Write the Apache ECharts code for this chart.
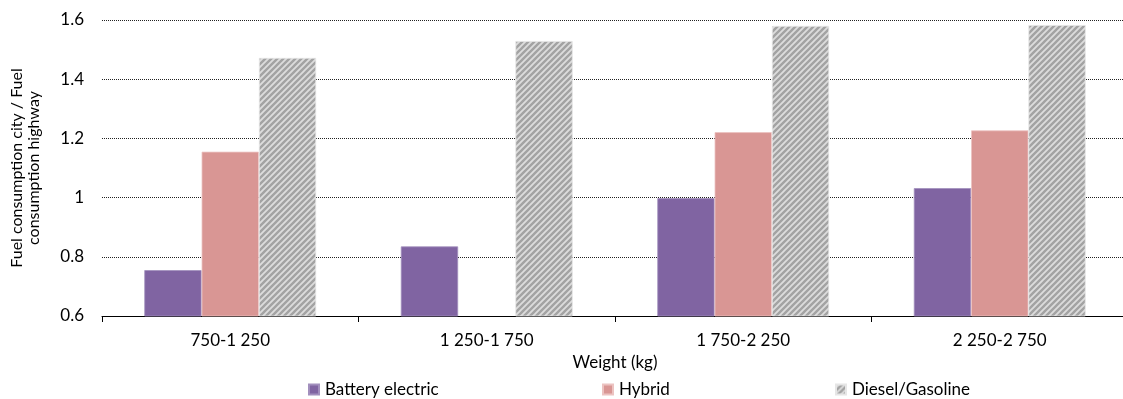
<!DOCTYPE html>
<html><head><meta charset="utf-8">
<script src="https://cdn.jsdelivr.net/npm/echarts@6/dist/echarts.min.js"></script>
<style>html,body{margin:0;padding:0;background:#fff;overflow:hidden}#c{width:1140px;height:399px}</style>
</head><body><div id="c"></div>
<script>
const categories = ['750-1 250', '1 250-1 750', '1 750-2 250', '2 250-2 750'];
const seriesNames = ['Battery electric', 'Hybrid', 'Diesel/Gasoline'];
const batteryElectric = [0.755, 0.835, 0.998, 1.032];
const hybrid = [1.155, null, 1.221, 1.227];
const dieselGasoline = [1.472, 1.529, 1.58, 1.583];
const yTicks = { min: 0.6, max: 1.6, interval: 0.2 };

function stripePattern() {
  const s = 6;
  const c = document.createElement('canvas');
  c.width = s; c.height = s;
  const g = c.getContext('2d');
  g.fillStyle = '#dcdcdc';
  g.fillRect(0, 0, s, s);
  g.strokeStyle = '#a3a3a3';
  g.lineWidth = 2.4;
  g.beginPath();
  g.moveTo(-s, s); g.lineTo(s, -s);
  g.moveTo(0, s * 2); g.lineTo(s * 2, 0);
  g.moveTo(-s, 2 * s); g.lineTo(2 * s, -s);
  g.stroke();
  return c;
}

const font = 'Lato';
const chart = echarts.init(document.getElementById('c'), null, { renderer: 'canvas' });
const pattern = { image: stripePattern(), repeat: 'repeat' };
const legendLefts = [303, 597, 830];

chart.setOption({
  animation: false,
  textStyle: { fontFamily: font, color: '#000' },
  grid: { left: 101, width: 1027, top: 20, height: 296, containLabel: false },
  legend: seriesNames.map((n, i) => ({
    left: legendLefts[i], top: 376,
    itemWidth: 10, itemHeight: 10,
    icon: 'rect',
    textStyle: { fontFamily: font, fontSize: 17, color: '#000', padding: [0, 0, 0, 1] },
    data: [n]
  })),
  xAxis: {
    type: 'category',
    data: categories,
    name: 'Weight (kg)',
    nameLocation: 'middle',
    nameGap: 36,
    nameTextStyle: { fontFamily: font, fontSize: 17, color: '#000' },
    axisLine: { lineStyle: { color: '#000', width: 1 } },
    axisTick: { show: true, length: 6, lineStyle: { color: '#000' } },
    axisLabel: { fontFamily: font, fontSize: 17, color: '#000', margin: 16 },
    splitLine: { show: false }
  },
  yAxis: {
    type: 'value',
    min: yTicks.min, max: yTicks.max, interval: yTicks.interval,
    name: 'Fuel consumption city / Fuel\nconsumption highway',
    nameLocation: 'middle',
    nameGap: 60,
    nameTextStyle: { fontFamily: font, fontSize: 16, color: '#000', lineHeight: 17 },
    axisLine: { show: false },
    axisTick: { show: false },
    axisLabel: { fontFamily: font, fontSize: 17, color: '#000', margin: 18 },
    splitLine: { lineStyle: { color: '#222', type: [1, 1], width: 1 } }
  },
  series: [
    { name: seriesNames[0], type: 'bar', data: batteryElectric, barGap: '0%', barCategoryGap: '33%',
      itemStyle: { color: '#8064a2', borderColor: '#a28fbd', borderWidth: 0.8 } },
    { name: seriesNames[1], type: 'bar', data: hybrid, barGap: '0%', barCategoryGap: '33%',
      itemStyle: { color: '#d99694', borderColor: '#ecc3c1', borderWidth: 0.8 } },
    { name: seriesNames[2], type: 'bar', data: dieselGasoline, barGap: '0%', barCategoryGap: '33%',
      itemStyle: { color: pattern, borderColor: '#e6e6e6', borderWidth: 0.8 } }
  ]
});
</script></body></html>
